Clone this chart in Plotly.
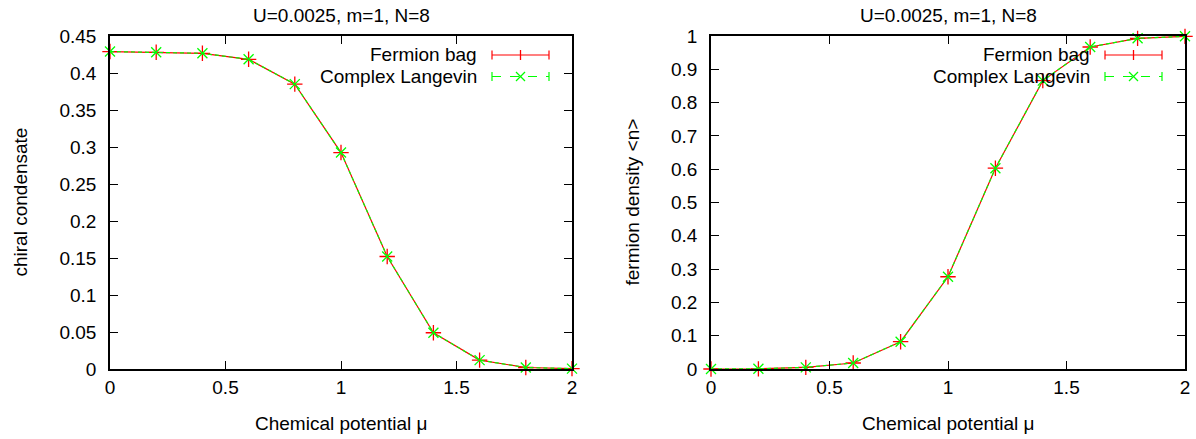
import plotly.graph_objects as go

mu = [0.0, 0.2, 0.4, 0.6, 0.8, 1.0, 1.2, 1.4, 1.6, 1.8, 2.0]
cond_fb = [0.429, 0.428, 0.4266, 0.4185, 0.385, 0.2925, 0.152, 0.049, 0.012, 0.002, 0.0005]
cond_cl = [0.429, 0.428, 0.4266, 0.4185, 0.385, 0.2925, 0.152, 0.049, 0.012, 0.002, 0.0005]
dens_fb = [0.0, 0.0005, 0.005, 0.018, 0.082, 0.277, 0.603, 0.866, 0.967, 0.993, 0.999]
dens_cl = [0.0, 0.0005, 0.005, 0.018, 0.082, 0.277, 0.603, 0.866, 0.967, 0.993, 0.999]

title_text = "U=0.0025, m=1, N=8"
xlabel = "Chemical potential \u03bc"
ylabel_left = "chiral condensate"
ylabel_right = "fermion density <n>"
names = ["Fermion bag", "Complex Langevin"]

RED = "#ff0000"
GREEN = "#00ff00"
FONT = "Liberation Sans, Arial, sans-serif"
FS = 19

W, H = 1196, 439
# plot-area pixel boxes
L1, R1 = 110, 572
L2, R2 = 711, 1185
TOP, BOT = 36, 369

def px(x):
    return x / W

def py(y):
    return (H - y) / H

fig = go.Figure()

for xa, ya, fb, cl in [("x", "y", cond_fb, cond_cl), ("x2", "y2", dens_fb, dens_cl)]:
    fig.add_trace(go.Scatter(
        x=mu, y=fb, xaxis=xa, yaxis=ya, mode="lines+markers", name=names[0],
        line=dict(color=RED, width=1.2),
        marker=dict(symbol="cross-thin", size=11, line=dict(color=RED, width=1.3)),
        showlegend=False, cliponaxis=False))
    fig.add_trace(go.Scatter(
        x=mu, y=cl, xaxis=xa, yaxis=ya, mode="lines+markers", name=names[1],
        line=dict(color=GREEN, width=1.2, dash="4px,3px"),
        marker=dict(symbol="x-thin", size=10, line=dict(color=GREEN, width=1.3)),
        showlegend=False, cliponaxis=False))

axis_common = dict(
    showline=True, linecolor="black", linewidth=1.5, mirror="allticks",
    ticks="inside", ticklen=8, tickwidth=1.3, tickcolor="black",
    showgrid=False, zeroline=False, automargin=False,
    tickfont=dict(family=FONT, size=FS, color="black"),
)

fig.update_layout(
    template="none",
    width=W, height=H, autosize=False,
    margin=dict(l=0, r=0, t=0, b=0, pad=0),
    paper_bgcolor="white", plot_bgcolor="white",
    font=dict(family=FONT, size=FS, color="black"),
    xaxis=dict(domain=[px(L1), px(R1)], range=[0, 2], dtick=0.5, anchor="y",
               ticklabelstandoff=0, **axis_common),
    yaxis=dict(domain=[py(BOT), py(TOP)], range=[0, 0.45], dtick=0.05, anchor="x",
               tickformat="~g", ticklabelstandoff=8, **axis_common),
    xaxis2=dict(domain=[px(L2), px(R2)], range=[0, 2], dtick=0.5, anchor="y2",
                ticklabelstandoff=0, **axis_common),
    yaxis2=dict(domain=[py(BOT), py(TOP)], range=[0, 1], dtick=0.1, anchor="x2",
                tickformat="~g", ticklabelstandoff=8, **axis_common),
    showlegend=False,
)

annotations = []
shapes = []
for (L, R, ylab, ylabx) in [(L1, R1, ylabel_left, 20), (L2, R2, ylabel_right, 632)]:
    cx = (L + R) / 2
    annotations.append(dict(text=title_text, x=px(cx), y=py(16), xref="paper", yref="paper",
                            showarrow=False, xanchor="center", yanchor="middle",
                            font=dict(family=FONT, size=FS)))
    annotations.append(dict(text=xlabel, x=px(cx), y=py(423), xref="paper", yref="paper",
                            showarrow=False, xanchor="center", yanchor="middle",
                            font=dict(family=FONT, size=FS)))
    annotations.append(dict(text=ylab.replace("<", "&lt;").replace(">", "&gt;"),
                            x=px(ylabx), y=py((TOP + BOT) / 2),
                            xref="paper", yref="paper", textangle=-90,
                            showarrow=False, xanchor="center", yanchor="middle",
                            font=dict(family=FONT, size=FS)))
    # legend (gnuplot style: text right-aligned, sample to the right)
    text_r = R - 93
    s0, s1 = R - 80, R - 23
    sm = (s0 + s1) / 2
    for i, (nm, col, dash) in enumerate([(names[0], RED, "solid"), (names[1], GREEN, "dash")]):
        yy = 55 + 21.5 * i
        annotations.append(dict(text=nm, x=px(text_r), y=py(yy), xref="paper", yref="paper",
                                showarrow=False, xanchor="right", yanchor="middle",
                                font=dict(family=FONT, size=FS)))
        shapes.append(dict(type="line", xref="paper", yref="paper",
                           x0=px(s0), x1=px(s1), y0=py(yy), y1=py(yy),
                           line=dict(color=col, width=1.2, dash=dash)))
        for xe in (s0, s1):
            shapes.append(dict(type="line", xref="paper", yref="paper",
                               x0=px(xe), x1=px(xe), y0=py(yy - 4.5), y1=py(yy + 4.5),
                               line=dict(color=col, width=1.2)))
        if i == 0:
            shapes.append(dict(type="line", xref="paper", yref="paper",
                               x0=px(sm), x1=px(sm), y0=py(yy - 5), y1=py(yy + 5),
                               line=dict(color=col, width=1.3)))
        else:
            shapes.append(dict(type="line", xref="paper", yref="paper",
                               x0=px(sm - 4.5), x1=px(sm + 4.5), y0=py(yy - 4.5), y1=py(yy + 4.5),
                               line=dict(color=col, width=1.3)))
            shapes.append(dict(type="line", xref="paper", yref="paper",
                               x0=px(sm - 4.5), x1=px(sm + 4.5), y0=py(yy + 4.5), y1=py(yy - 4.5),
                               line=dict(color=col, width=1.3)))

fig.update_layout(annotations=annotations, shapes=shapes)
post = ("document.documentElement.style.margin='0';document.documentElement.style.overflow='hidden';"
        "document.body.style.margin='0';document.body.style.padding='0';document.body.style.overflow='hidden';")
fig.write_html("out.html", post_script=post, config={"responsive": False, "displayModeBar": False})
